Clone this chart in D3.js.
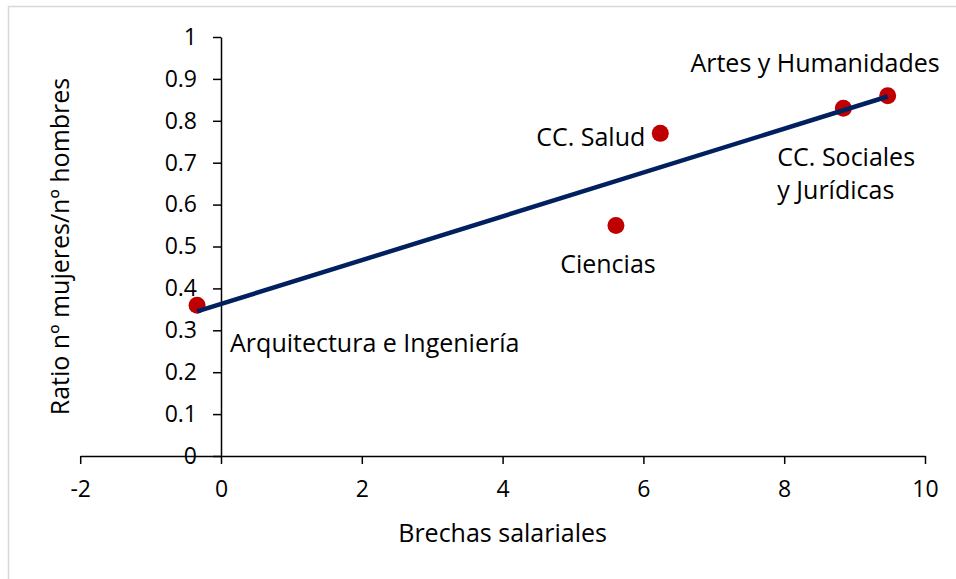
<!DOCTYPE html>
<html>
<head>
<meta charset="utf-8">
<script src="https://cdn.jsdelivr.net/npm/d3@7"></script>
<style>
  html, body { margin: 0; padding: 0; background: #fff; }
  text { font-family: "Open Sans", "Noto Sans", sans-serif; fill: #000; }
</style>
</head>
<body>
<div id="chart"></div>
<script>
// scatter: ratio women/men vs salary gap, by branch
const categories = ["Arquitectura e Ingeniería", "Ciencias", "CC. Salud", "CC. Sociales\ny Jurídicas", "Artes y Humanidades"];
const gapValues = [-0.34, 5.61, 6.24, 8.84, 9.47];
const ratioValues = [0.36, 0.55, 0.77, 0.83, 0.86];
// label anchor offsets (pixels) relative to each point
const labelDx = [33, -8, -15, -66, 52];
const labelDy = [47, 47, 13, 58, -24];
const labelAnchor = ["start", "middle", "end", "start", "end"];

const trendX = [-0.34, 9.47];
const trendY = [0.345, 0.858];

const xTicks = [-2, 0, 2, 4, 6, 8, 10];
const yTicks = [0, 0.1, 0.2, 0.3, 0.4, 0.5, 0.6, 0.7, 0.8, 0.9, 1];

const width = 956, height = 579;
const tickFont = 23;
const labelFont = 25;
const fontFamily = "'Open Sans', 'Noto Sans', sans-serif";

const svg = d3.select("#chart").append("svg")
    .attr("width", width)
    .attr("height", height);

// chart area frame (right and bottom edges fall outside the window)
svg.append("rect")
    .attr("x", 8.5).attr("y", 6.5)
    .attr("width", 960).attr("height", 600)
    .attr("fill", "#fff")
    .attr("stroke", "#d9d9d9")
    .attr("stroke-width", 1.5);

const x = d3.scaleLinear().domain([-2, 10]).range([80.2, 925]);
const y = d3.scaleLinear().domain([0, 1]).range([456, 37]);

// x axis sits at y = 0
const xAxis = svg.append("g")
    .attr("transform", `translate(0,${y(0)})`)
    .call(d3.axisBottom(x).tickValues(xTicks).tickSize(8).tickSizeOuter(0).tickPadding(13).tickFormat(d => String(d)));

// y axis sits at x = 0
const yAxis = svg.append("g")
    .attr("transform", `translate(${x(0)},0)`)
    .call(d3.axisLeft(y).tickValues(yTicks).tickSize(8).tickSizeOuter(0).tickPadding(16).tickFormat(d => String(+d.toFixed(1))));

[xAxis, yAxis].forEach(g => {
    g.select(".domain").attr("stroke", "#000").attr("stroke-width", 1.5);
    g.selectAll(".tick line").attr("stroke", "#000").attr("stroke-width", 1.5);
    g.selectAll(".tick text")
        .attr("font-size", tickFont)
        .attr("font-family", fontFamily)
        .attr("fill", "#000");
});
xAxis.selectAll(".tick text").attr("dy", "0.85em");

const trendLine = d3.line().x(d => x(d[0])).y(d => y(d[1]));

// points
svg.append("g").selectAll("circle")
    .data(d3.range(gapValues.length))
    .join("circle")
    .attr("cx", i => x(gapValues[i]))
    .attr("cy", i => y(ratioValues[i]))
    .attr("r", 8.5)
    .attr("fill", "#c00000");

// trend line drawn over the points
svg.append("path")
    .datum(d3.zip(trendX, trendY))
    .attr("fill", "none")
    .attr("stroke", "#002060")
    .attr("stroke-width", 4.5)
    .attr("d", trendLine);

// point labels
const labels = svg.append("g").selectAll("text")
    .data(d3.range(categories.length))
    .join("text")
    .attr("x", i => x(gapValues[i]) + labelDx[i])
    .attr("y", i => y(ratioValues[i]) + labelDy[i])
    .attr("text-anchor", i => labelAnchor[i])
    .attr("font-size", labelFont);

labels.each(function (i) {
    const lines = categories[i].split("\n");
    const t = d3.select(this);
    lines.forEach((ln, k) => {
        t.append("tspan")
            .attr("x", x(gapValues[i]) + labelDx[i])
            .attr("dy", k === 0 ? 0 : 33)
            .text(ln);
    });
});

// axis titles
svg.append("text")
    .attr("x", (x(-2) + x(10)) / 2)
    .attr("y", 542)
    .attr("text-anchor", "middle")
    .attr("font-size", labelFont)
    .text("Brechas salariales");

svg.append("text")
    .attr("transform", `translate(69,${(y(0) + y(1)) / 2}) rotate(-90)`)
    .attr("text-anchor", "middle")
    .attr("font-size", labelFont)
    .text("Ratio nº mujeres/nº hombres");
</script>
</body>
</html>
